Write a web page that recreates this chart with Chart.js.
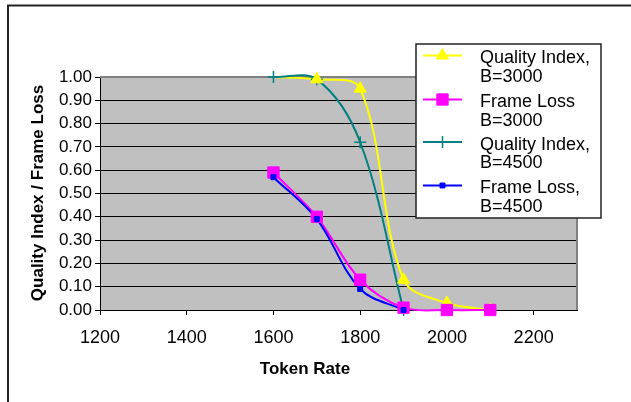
<!DOCTYPE html>
<html>
<head>
<meta charset="utf-8">
<script src="https://cdn.jsdelivr.net/npm/chart.js@4/dist/chart.umd.min.js"></script>
<style>
  html, body { margin: 0; padding: 0; background: #fff; }
  canvas { display: block; }
</style>
</head>
<body>
<canvas id="c" width="631" height="402"></canvas>
<script>
// Token rates sampled for each buffer size
const tokenRate3000 = [1600, 1700, 1800, 1900, 2000, 2100];
const tokenRate4500 = [1600, 1700, 1800, 1900];

// Measured series
const quality3000 = [1.00, 0.99, 0.95, 0.13, 0.03, 0.00];
const frameLoss3000 = [0.59, 0.40, 0.13, 0.01, 0.00, 0.00];
const quality4500 = [1.00, 0.99, 0.72, 0.00];
const frameLoss4500 = [0.57, 0.39, 0.09, 0.00];

// Series names (two-line legend entries)
const seriesNames = [
  ["Quality Index,", "B=3000"],
  ["Frame Loss", "B=3000"],
  ["Quality Index,", "B=4500"],
  ["Frame Loss,", "B=4500"]
];

// Axis ticks and titles
const xTicks = [1200, 1400, 1600, 1800, 2000, 2200];
const yTicks = [0.0, 0.1, 0.2, 0.3, 0.4, 0.5, 0.6, 0.7, 0.8, 0.9, 1.0];
const xTitle = "Token Rate";
const yTitle = "Quality Index / Frame Loss";

const FONT = "'Liberation Sans', Arial, sans-serif";

function toPoints(xs, ys) {
  return xs.map((x, i) => ({ x: x, y: ys[i] }));
}

// Series styling: colour, marker, and marker stacking (lower = painted on top)
const seriesStyles = [
  { color: "#FFFF00", pointStyle: "triangle", radius: 7, markerBorder: 1, markerOrder: 3, skipFirstMarker: true },
  { color: "#FF00FF", pointStyle: "rect", radius: 8, markerBorder: 1, markerOrder: 2 },
  { color: "#008080", pointStyle: "cross", radius: 6, markerBorder: 1.5, markerOrder: 4 },
  { color: "#0000FF", pointStyle: "rect", radius: 3.5, markerBorder: 1, markerOrder: 1 }
];
const seriesData = [
  toPoints(tokenRate3000, quality3000),
  toPoints(tokenRate3000, frameLoss3000),
  toPoints(tokenRate4500, quality4500),
  toPoints(tokenRate4500, frameLoss4500)
];

// Curves are painted first, markers afterwards above every curve.
const datasets = [];
seriesData.forEach((data, i) => {
  const st = seriesStyles[i];
  datasets.push({
    label: seriesNames[i].join(" "),
    data: data,
    borderColor: st.color, backgroundColor: st.color,
    borderWidth: 2, pointRadius: 0, tension: 0.35,
    clip: false, fill: false, order: 20 - i
  });
});
seriesData.forEach((data, i) => {
  const st = seriesStyles[i];
  datasets.push({
    label: seriesNames[i].join(" ") + " markers",
    data: data,
    showLine: false,
    borderColor: st.color, backgroundColor: st.color,
    pointStyle: st.pointStyle,
    pointRadius: c => (st.skipFirstMarker && c.dataIndex === 0) ? 0 : st.radius,
    pointBorderWidth: st.markerBorder,
    clip: false, order: st.markerOrder
  });
});

// Background, outer frame, plot area fill and border, titles, legend
const framePlugin = {
  id: "frame",
  beforeDraw(chart) {
    const ctx = chart.ctx, a = chart.chartArea;
    ctx.save();
    ctx.fillStyle = "#fff";
    ctx.fillRect(0, 0, chart.width, chart.height);
    ctx.strokeStyle = "#222";
    ctx.lineWidth = 2;
    ctx.beginPath();
    ctx.moveTo(8, chart.height + 2);
    ctx.lineTo(8, 5.5);
    ctx.lineTo(chart.width + 2, 5.5);
    ctx.stroke();
    ctx.fillStyle = "#C0C0C0";
    ctx.fillRect(a.left, a.top, a.right - a.left, a.bottom - a.top);
    ctx.restore();
  },
  beforeDatasetsDraw(chart) {
    const ctx = chart.ctx, a = chart.chartArea;
    ctx.save();
    ctx.strokeStyle = "#808080";
    ctx.lineWidth = 2;
    ctx.beginPath();
    ctx.moveTo(a.left, a.top);
    ctx.lineTo(a.right, a.top);
    ctx.lineTo(a.right, a.bottom);
    ctx.stroke();
    ctx.restore();
  },
  afterDraw(chart) {
    const ctx = chart.ctx;
    ctx.save();
    ctx.fillStyle = "#000";
    ctx.font = "bold 17px " + FONT;
    ctx.textAlign = "center";
    ctx.textBaseline = "middle";
    ctx.fillText(xTitle, 305, 369);
    ctx.translate(38, 193);
    ctx.rotate(-Math.PI / 2);
    ctx.fillText(yTitle, 0, 0);
    ctx.restore();

    // Legend box
    ctx.save();
    const bx = 416, by = 44, bw = 185, bh = 174;
    ctx.fillStyle = "#fff";
    ctx.fillRect(bx, by, bw, bh);
    ctx.strokeStyle = "#222";
    ctx.lineWidth = 1.5;
    ctx.strokeRect(bx, by, bw, bh);
    const rowY = [55.5, 99.5, 142, 185.5];
    seriesStyles.forEach((st, i) => {
      const y = rowY[i];
      ctx.strokeStyle = st.color;
      ctx.lineWidth = 2;
      ctx.beginPath();
      ctx.moveTo(423, y);
      ctx.lineTo(462, y);
      ctx.stroke();
      ctx.fillStyle = st.color;
      ctx.lineWidth = st.markerBorder;
      Chart.helpers.drawPoint(ctx, { pointStyle: st.pointStyle, radius: st.radius, rotation: 0, borderWidth: st.markerBorder }, 442.5, y);
      ctx.fillStyle = "#000";
      ctx.font = "18px " + FONT;
      ctx.textAlign = "left";
      ctx.textBaseline = "middle";
      seriesNames[i].forEach((line, j) => {
        ctx.fillText(line, 480, y + 3 + j * 18.5);
      });
    });
    ctx.restore();
  }
};

new Chart(document.getElementById("c"), {
  type: "line",
  data: { datasets: datasets },
  options: {
    responsive: false,
    animation: false,
    events: [],
    layout: { padding: { left: 0, top: 77, right: 54, bottom: 0 } },
    elements: { line: { capBezierPoints: false } },
    plugins: { legend: { display: false }, tooltip: { enabled: false }, title: { display: false } },
    scales: {
      x: {
        type: "linear", min: 1200, max: 2300,
        afterBuildTicks: s => { s.ticks = xTicks.map(v => ({ value: v })); },
        afterFit: s => { s.height = 92; },
        grid: { drawOnChartArea: false, color: "#000", tickLength: 5, tickWidth: 1 },
        border: { color: "#000", width: 1 },
        ticks: { color: "#000", font: { family: FONT, size: 18 }, padding: 12, maxRotation: 0, autoSkip: false, callback: v => String(v) }
      },
      y: {
        type: "linear", min: 0, max: 1,
        afterBuildTicks: s => { s.ticks = yTicks.map(v => ({ value: v })); },
        afterFit: s => { s.width = 100; },
        grid: { color: "#000", lineWidth: 1, tickLength: 5 },
        border: { color: "#000", width: 1 },
        ticks: { color: "#000", font: { family: FONT, size: 17 }, padding: 3, autoSkip: false, callback: v => Number(v).toFixed(2) }
      }
    }
  },
  plugins: [framePlugin]
});
</script>
</body>
</html>
